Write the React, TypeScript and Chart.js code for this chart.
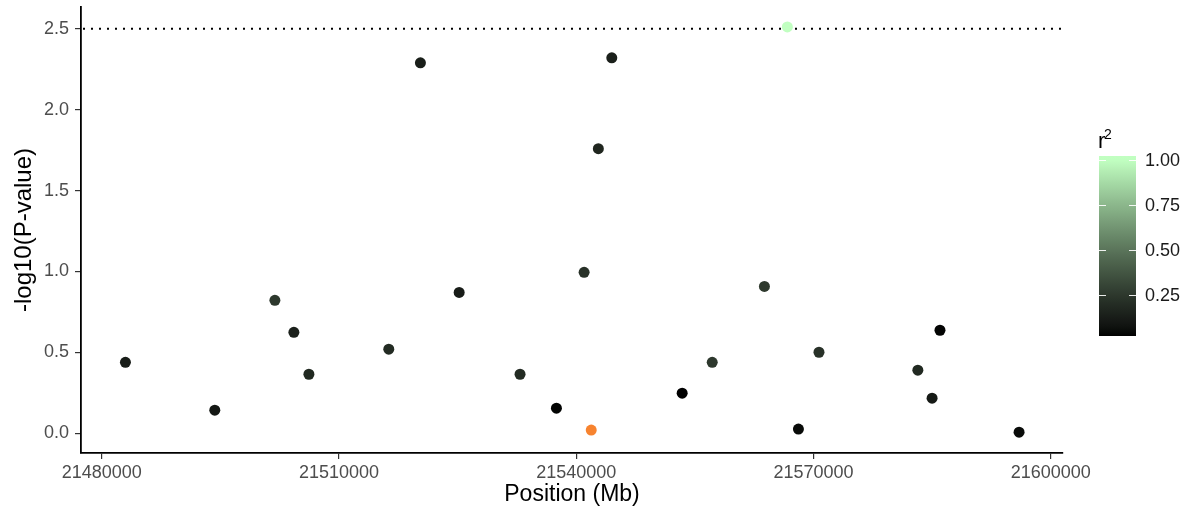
import React, { useEffect, useRef } from "react";
import { Chart, registerables } from "chart.js";

Chart.register(...registerables);

// ---- data ----
const positions = [
  21483000, 21494300, 21501900, 21504300, 21506200, 21516300, 21520300, 21525200,
  21532900, 21537500, 21541000, 21542800, 21544500, 21553400, 21557200, 21563800,
  21566700, 21568100, 21570700, 21583200, 21585000, 21586000, 21596000,
];
const logP = [
  0.438, 0.142, 0.821, 0.623, 0.364, 0.519, 2.29, 0.87,
  0.364, 0.154, 0.994, 1.759, 2.321, 0.247, 0.438, 0.907,
  2.512, 0.025, 0.5, 0.389, 0.216, 0.636, 0.006,
];
const r2 = [
  0.12, 0.1, 0.25, 0.14, 0.18, 0.19, 0.13, 0.12,
  0.19, 0.03, 0.22, 0.17, 0.14, 0.02, 0.25, 0.26,
  1.0, 0.05, 0.22, 0.18, 0.11, 0.03, 0.05,
];
const leadPosition = [21541900];
const leadLogP = [0.019];
const threshold = 2.5;
const xTickValues = [21480000, 21510000, 21540000, 21570000, 21600000];
const yTickValues = [0, 0.5, 1.0, 1.5, 2.0, 2.5];
const legendTicks = [0.25, 0.5, 0.75, 1.0];

// ---- colour helpers (CIELAB interpolation, like ggplot) ----
const LOW = "#000000";
const HIGH = "#C1FFC1";
const LEAD_COLOR = "#F7832F";
const FONT = "'Liberation Sans', Arial, sans-serif";

function hexToRgb(h: string) {
  const n = parseInt(h.slice(1), 16);
  return [(n >> 16) & 255, (n >> 8) & 255, n & 255];
}
function toLin(c: number) {
  c /= 255;
  return c <= 0.04045 ? c / 12.92 : Math.pow((c + 0.055) / 1.055, 2.4);
}
function fromLin(c: number) {
  const v = c <= 0.0031308 ? 12.92 * c : 1.055 * Math.pow(c, 1 / 2.4) - 0.055;
  return Math.max(0, Math.min(255, Math.round(v * 255)));
}
const Xn = 0.95047, Yn = 1, Zn = 1.08883;
function f(t: number) {
  return t > 0.008856 ? Math.cbrt(t) : 7.787 * t + 16 / 116;
}
function finv(t: number) {
  return t > 0.206893 ? t * t * t : (t - 16 / 116) / 7.787;
}
function rgbToLab(rgb: number[]) {
  const r = toLin(rgb[0]), g = toLin(rgb[1]), b = toLin(rgb[2]);
  const X = (0.4124 * r + 0.3576 * g + 0.1805 * b) / Xn;
  const Y = (0.2126 * r + 0.7152 * g + 0.0722 * b) / Yn;
  const Z = (0.0193 * r + 0.1192 * g + 0.9505 * b) / Zn;
  const fx = f(X), fy = f(Y), fz = f(Z);
  return [116 * fy - 16, 500 * (fx - fy), 200 * (fy - fz)];
}
function labToRgb(lab: number[]) {
  const fy = (lab[0] + 16) / 116;
  const fx = fy + lab[1] / 500;
  const fz = fy - lab[2] / 200;
  const X = finv(fx) * Xn, Y = finv(fy) * Yn, Z = finv(fz) * Zn;
  const r = 3.2406 * X - 1.5372 * Y - 0.4986 * Z;
  const g = -0.9689 * X + 1.8758 * Y + 0.0415 * Z;
  const b = 0.0557 * X - 0.204 * Y + 1.057 * Z;
  return `rgb(${fromLin(r)},${fromLin(g)},${fromLin(b)})`;
}
const labLow = rgbToLab(hexToRgb(LOW));
const labHigh = rgbToLab(hexToRgb(HIGH));
const R2_MIN = 0.02, R2_MAX = 1.0;
function r2Color(v: number) {
  const t = Math.max(0, Math.min(1, (v - R2_MIN) / (R2_MAX - R2_MIN)));
  return labToRgb([0, 1, 2].map((i) => labLow[i] + (labHigh[i] - labLow[i]) * t));
}

// ---- plugins ----
const thresholdLine = {
  id: "thresholdLine",
  beforeDatasetsDraw(chart: any) {
    const { ctx, chartArea } = chart;
    const y = chart.scales.y.getPixelForValue(threshold);
    ctx.save();
    ctx.strokeStyle = "#000";
    ctx.lineWidth = 2;
    ctx.setLineDash([2, 6]);
    ctx.beginPath();
    ctx.moveTo(chartArea.left + 2, y);
    ctx.lineTo(chartArea.right, y);
    ctx.stroke();
    ctx.restore();
  },
};

const colorBar = {
  id: "colorBar",
  afterDraw(chart: any) {
    const { ctx } = chart;
    const x0 = 1099, w = 37;
    const yTop = 156, yBot = 336;
    const vTop = 1.022, vBot = 0.022;
    const pix = (v: number) => yBot - ((v - vBot) / (vTop - vBot)) * (yBot - yTop);
    ctx.save();
    const grad = ctx.createLinearGradient(0, yBot, 0, yTop);
    for (let i = 0; i <= 40; i++) {
      const t = i / 40;
      grad.addColorStop(t, r2Color(vBot + (vTop - vBot) * t));
    }
    ctx.fillStyle = grad;
    ctx.fillRect(x0, yTop, w, yBot - yTop);
    ctx.strokeStyle = "rgba(255,255,255,0.9)";
    ctx.lineWidth = 1;
    ctx.fillStyle = "#1a1a1a";
    ctx.font = `18px ${FONT}`;
    ctx.textAlign = "left";
    ctx.textBaseline = "middle";
    for (const v of legendTicks) {
      const y = Math.round(pix(v)) + 0.5;
      ctx.beginPath();
      ctx.moveTo(x0, y);
      ctx.lineTo(x0 + 7, y);
      ctx.moveTo(x0 + w - 7, y);
      ctx.lineTo(x0 + w, y);
      ctx.stroke();
      ctx.fillText(v.toFixed(2), 1145, y + 1);
    }
    // title r²
    ctx.fillStyle = "#000";
    ctx.font = `22px ${FONT}`;
    ctx.textBaseline = "alphabetic";
    ctx.fillText("r", 1098, 148);
    ctx.font = `14px ${FONT}`;
    ctx.fillText("2", 1104, 139);
    ctx.restore();
  },
};

export default function App() {
  const ref = useRef<HTMLCanvasElement | null>(null);
  useEffect(() => {
    document.body.style.margin = "0";
    if (!ref.current) return;
    const main = positions.map((p, i) => ({ x: p, y: logP[i] }));
    const lead = leadPosition.map((p, i) => ({ x: p, y: leadLogP[i] }));
    const chart = new Chart(ref.current, {
      type: "scatter",
      data: {
        datasets: [
          {
            data: main,
            pointRadius: 5.5,
            pointBorderWidth: 0,
            pointBackgroundColor: r2.map(r2Color),
            pointBorderColor: "rgba(0,0,0,0)",
          },
          {
            data: lead,
            pointRadius: 5.5,
            pointBorderWidth: 0,
            pointBackgroundColor: LEAD_COLOR,
            pointBorderColor: "rgba(0,0,0,0)",
          },
        ],
      },
      options: {
        animation: false,
        responsive: false,
        events: [],
        layout: { padding: { left: 0, top: 7, right: 129, bottom: 0 } },
        plugins: { legend: { display: false }, tooltip: { enabled: false } },
        scales: {
          x: {
            type: "linear",
            min: 21477382,
            max: 21601555,
            afterBuildTicks: (s: any) => {
              s.ticks = xTickValues.map((v) => ({ value: v }));
            },
            afterFit: (s: any) => {
              s.height = 62;
              s.paddingLeft = 0;
              s.paddingRight = 0;
            },
            ticks: {
              callback: (v: any) => String(v),
              color: "#4d4d4d",
              font: { family: FONT, size: 18 },
              padding: 3,
              maxRotation: 0,
              autoSkip: false,
            },
            grid: {
              display: true,
              drawOnChartArea: false,
              drawTicks: true,
              tickLength: 6,
              color: "#333",
              lineWidth: 1.2,
            },
            border: { display: true, color: "#000", width: 1.8 },
            title: {
              display: true,
              text: "Position (Mb)",
              color: "#000",
              font: { family: FONT, size: 23 },
              padding: { top: 0, bottom: 7 },
            },
          },
          y: {
            type: "linear",
            min: -0.123,
            max: 2.635,
            afterBuildTicks: (s: any) => {
              s.ticks = yTickValues.map((v) => ({ value: v }));
            },
            afterFit: (s: any) => {
              s.width = 81;
              s.paddingTop = 0;
              s.paddingBottom = 0;
            },
            ticks: {
              callback: (v: any) => Number(v).toFixed(1),
              color: "#4d4d4d",
              font: { family: FONT, size: 18 },
              padding: 6,
              autoSkip: false,
            },
            grid: {
              display: true,
              drawOnChartArea: false,
              drawTicks: true,
              tickLength: 6,
              color: "#333",
              lineWidth: 1.2,
            },
            border: { display: true, color: "#000", width: 1.8 },
            title: {
              display: true,
              text: "-log10(P-value)",
              color: "#000",
              font: { family: FONT, size: 24 },
              padding: { top: 10, bottom: 0 },
            },
          },
        },
      },
      plugins: [thresholdLine, colorBar],
    });
    return () => chart.destroy();
  }, []);
  return (
    <div style={{ width: 1192, height: 515, background: "#fff" }}>
      <canvas ref={ref} width={1192} height={515} style={{ display: "block" }} />
    </div>
  );
}
